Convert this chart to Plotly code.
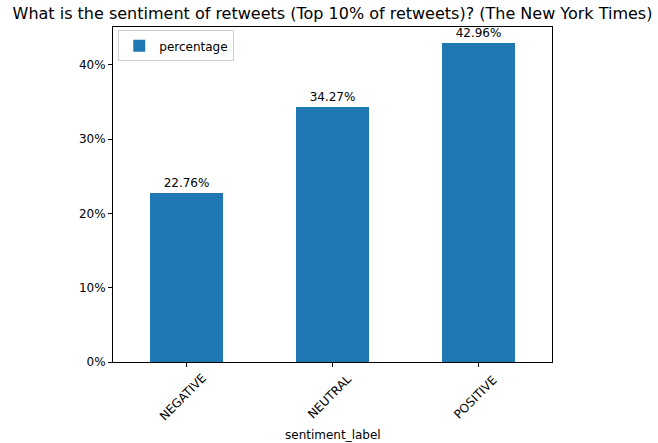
import plotly.graph_objects as go

# Share of retweets by sentiment label (percent)
categories = ["NEGATIVE", "NEUTRAL", "POSITIVE"]
percentages = [22.76, 34.27, 42.96]
y_ticks = [0, 10, 20, 30, 40]

FONT = "DejaVu Sans"
BAR_COLOR = "#1f77b4"

fig = go.Figure()
fig.add_trace(go.Bar(
    x=list(range(len(categories))),
    y=percentages,
    width=0.5,
    name="percentage",
    marker=dict(color=BAR_COLOR, line=dict(width=0)),
    text=[f"{v:.2f}%" for v in percentages],
    textposition="outside",
    textfont=dict(family=FONT, size=12, color="#000000"),
    cliponaxis=False,
))

# Rotated category labels, centred under each tick
for i, cat in enumerate(categories):
    fig.add_annotation(
        x=i, y=0, xref="x", yref="paper",
        text=cat, showarrow=False, textangle=-45,
        xanchor="center", yanchor="middle",
        xshift=-3, yshift=-35,
        font=dict(family=FONT, size=12, color="#000000"),
    )

# x-axis title below the rotated labels
fig.add_annotation(
    x=0.5, y=0, xref="paper", yref="paper",
    text="sentiment_label", showarrow=False,
    xanchor="center", yanchor="middle", yshift=-73,
    font=dict(family=FONT, size=12, color="#000000"),
)

fig.update_layout(
    width=658, height=443,
    margin=dict(l=113, r=106, t=27, b=81),
    paper_bgcolor="white", plot_bgcolor="white",
    font=dict(family=FONT, size=12, color="#000000"),
    title=dict(
        text="What is the sentiment of retweets (Top 10% of retweets)? (The New York Times)",
        x=0.5, xref="paper", xanchor="center",
        y=1 - 13 / 443, yref="container", yanchor="middle",
        font=dict(family=FONT, size=16, color="#000000"),
    ),
    showlegend=True,
    legend=dict(
        x=0.012, y=0.99, xanchor="left", yanchor="top",
        bgcolor="white", bordercolor="#d0d0d0", borderwidth=1,
        font=dict(family=FONT, size=12, color="#000000"),
        tracegroupgap=0,
    ),
    bargap=0,
)

fig.update_xaxes(
    range=[-0.5, 2.5],
    tickvals=list(range(len(categories))),
    ticktext=["" for _ in categories],
    ticks="outside", ticklen=4, tickcolor="black",
    showline=True, linecolor="black", linewidth=1, mirror=True,
    showgrid=False, zeroline=False,
)
fig.update_yaxes(
    range=[0, max(percentages) * 1.05],
    tickvals=y_ticks,
    ticktext=[f"{t}%" for t in y_ticks],
    ticks="outside", ticklen=4, tickcolor="black",
    showline=True, linecolor="black", linewidth=1, mirror=True,
    showgrid=False, zeroline=False,
    tickfont=dict(family=FONT, size=12, color="#000000"),
)

fig.write_html("out.html")
